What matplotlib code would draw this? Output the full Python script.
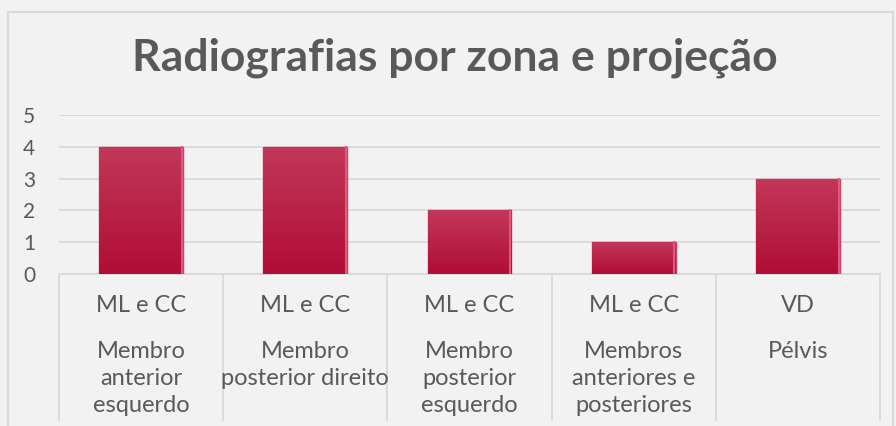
import numpy as np
import matplotlib.pyplot as plt
from matplotlib.colors import LinearSegmentedColormap
from matplotlib.patches import Rectangle

# Dados do gráfico
projecoes = ['ML e CC', 'ML e CC', 'ML e CC', 'ML e CC', 'VD']
zonas = ['Membro\nanterior\nesquerdo', 'Membro\nposterior direito',
         'Membro\nposterior\nesquerdo', 'Membros\nanteriores e\nposteriores', 'Pélvis']
valores = [4, 4, 2, 1, 3]
titulo = 'Radiografias por zona e projeção'

# Cores e fonte
fundo = '#F2F2F2'
cor_texto = '#595959'
cor_grade = '#D9D9D9'
plt.rcParams['font.family'] = ['Lato', 'DejaVu Sans']

W, H = 896, 426
fig = plt.figure(figsize=(W / 100, H / 100), dpi=100, facecolor=fundo)

# Borda do gráfico (cortada em baixo, como na imagem)
fig.patches.append(Rectangle((8 / W, -0.1), (893 - 8) / W, 1.1 - 12 / H,
                             transform=fig.transFigure, fill=False,
                             edgecolor=cor_grade, linewidth=1.5))

# Área de plotagem em pixels: x 59..880, y 115..274
x0, x1, y_top, y_bot = 59, 880, 115, 274
ax = fig.add_axes([x0 / W, 1 - y_bot / H, (x1 - x0) / W, (y_bot - y_top) / H])
ax.set_facecolor('none')

x = np.arange(len(valores))
barras = ax.bar(x, valores, width=0.51, color='#BA1A42', edgecolor='#C94563',
                linewidth=1, zorder=3)

# Gradiente vertical nas barras
grad = LinearSegmentedColormap.from_list('g', ['#B10D36', '#C2385A'])
for b in barras:
    bx, by = b.get_x(), b.get_y()
    bw, bh = b.get_width(), b.get_height()
    img = ax.imshow(np.linspace(0, 1, 100).reshape(-1, 1), cmap=grad, aspect='auto',
                    extent=[bx, bx + bw, by, by + bh], origin='lower', zorder=3.5)
    img.set_clip_path(b)
    # borda clara do lado direito
    ax.plot([bx + bw * 0.985] * 2, [by, by + bh], color='#E2577A', lw=1.5, zorder=4)

ax.set_xlim(-0.5, len(valores) - 0.5)
ax.set_ylim(0, 5)
ax.set_yticks(range(0, 6))
ax.yaxis.grid(True, color=cor_grade, linewidth=1.3, zorder=0)
ax.set_axisbelow(True)
ax.set_xticks([])
ax.tick_params(axis='y', length=0, pad=17, labelsize=15, labelcolor=cor_texto)
for s in ['top', 'right', 'left']:
    ax.spines[s].set_visible(False)
ax.spines['bottom'].set_color(cor_grade)
ax.spines['bottom'].set_linewidth(1.3)

# Eixo de categorias em dois níveis
alt = y_bot - y_top
trans = ax.get_xaxis_transform()
for i in range(len(valores)):
    ax.text(x[i], (y_bot - 305) / alt, projecoes[i], transform=trans, ha='center',
            va='center', fontsize=17, color=cor_texto)
    ax.text(x[i], (y_bot - 341) / alt, zonas[i], transform=trans, ha='center',
            va='top', fontsize=17, color=cor_texto, linespacing=1.36)
for i in range(len(valores) + 1):
    ax.plot([i - 0.5, i - 0.5], [0, (y_bot - 420) / alt], transform=trans,
            color=cor_grade, lw=1.3, clip_on=False)

fig.text(455 / W, 1 - 58 / H, titulo, ha='center', va='center', fontsize=32,
         fontweight='bold', color=cor_texto)

fig.savefig('out.png', dpi=100, facecolor=fundo)
